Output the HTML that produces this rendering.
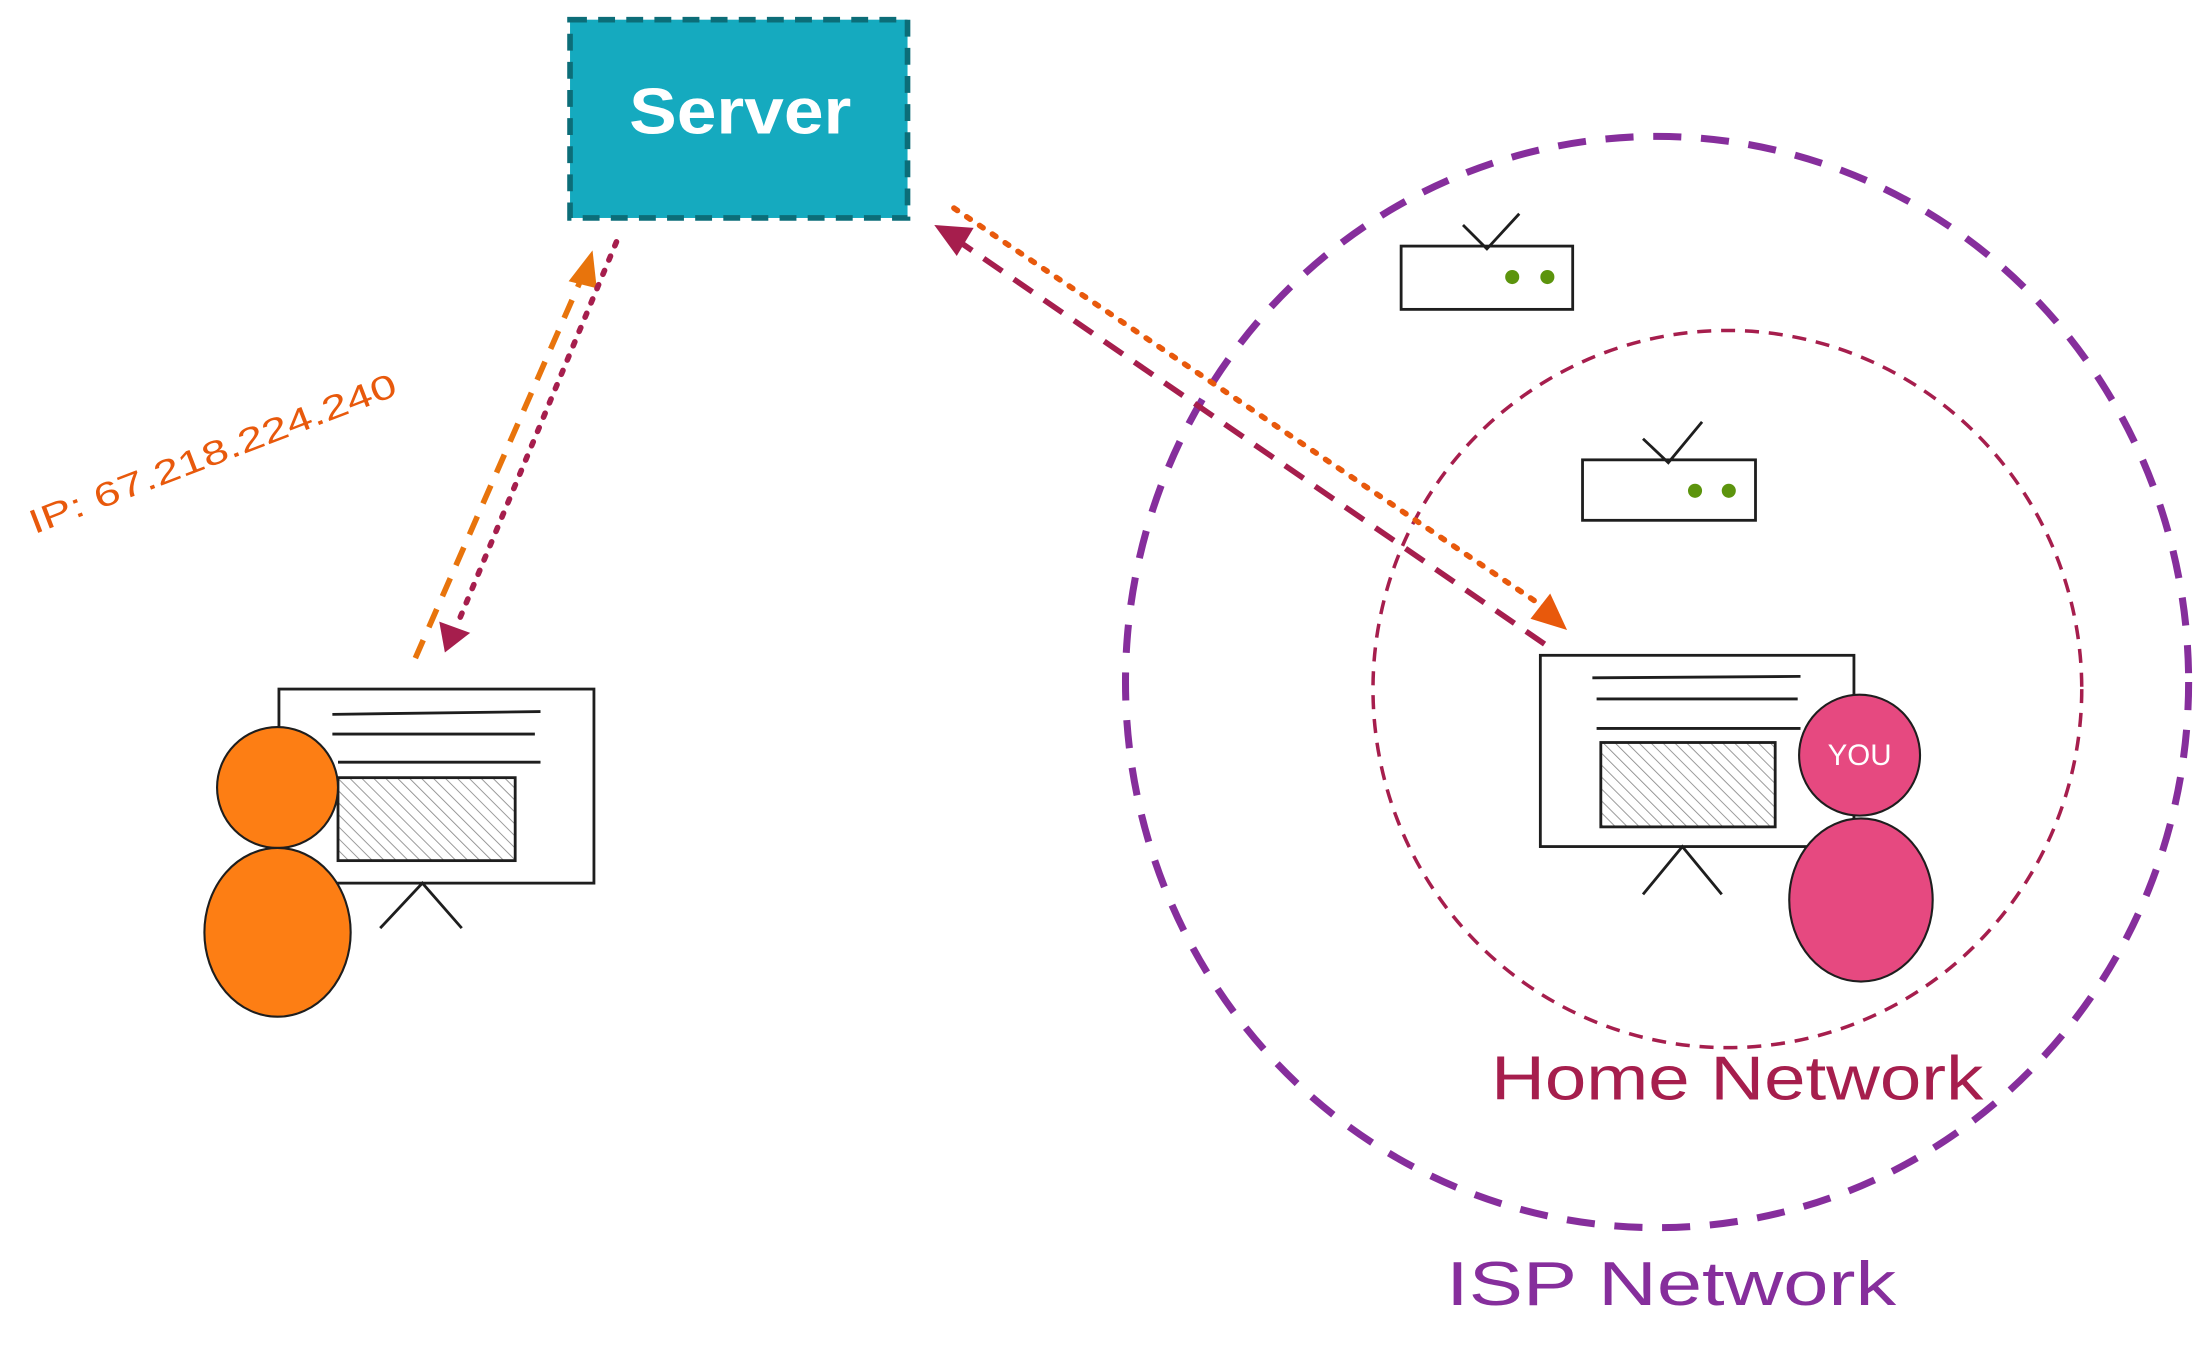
<!DOCTYPE html>
<html><head><meta charset="utf-8"><style>
html,body{margin:0;padding:0;background:#fff;}
svg{display:block;}
text{font-family:"Liberation Sans",sans-serif;}
</style></head><body>
<svg width="2206" height="1350" viewBox="0 0 1568 960" xmlns="http://www.w3.org/2000/svg">
<defs>
<pattern id="h" width="6" height="6" patternUnits="userSpaceOnUse" patternTransform="rotate(-45)">
<rect width="6" height="6" fill="#fff"/><line x1="0" y1="0" x2="0" y2="6" stroke="#888" stroke-width="1.2"/>
</pattern>
</defs>
<rect x="405" y="14" width="240" height="141" fill="#15aabf" stroke="#0c6d78" stroke-width="4" stroke-dasharray="12 8"/>
<text x="447" y="95" font-size="46" fill="#fff" textLength="158" lengthAdjust="spacingAndGlyphs" font-weight="bold">Server</text>
<line x1="295" y1="468" x2="414" y2="196" stroke="#e8740c" stroke-width="4" stroke-dasharray="14 10"/>
<polygon points="421,178 404,200 424,205" fill="#e8740c"/>
<line x1="438" y1="172" x2="324" y2="446" stroke="#a61e4d" stroke-width="4" stroke-dasharray="3 8" stroke-linecap="round"/>
<polygon points="316,464 312,442 334,450" fill="#a61e4d"/>
<text x="0" y="0" font-size="24" fill="#e8590c" textLength="278" lengthAdjust="spacingAndGlyphs" transform="translate(24,380) rotate(-21)">IP: 67.218.224.240</text>
<rect x="198" y="490" width="224" height="138" fill="#fff" stroke="#1e1e1e" stroke-width="2"/>
<line x1="236" y1="508" x2="384" y2="506" stroke="#1e1e1e" stroke-width="2"/>
<line x1="236" y1="522" x2="380" y2="522" stroke="#1e1e1e" stroke-width="2"/>
<line x1="240" y1="542" x2="384" y2="542" stroke="#1e1e1e" stroke-width="2"/>
<rect x="240" y="553" width="126" height="59" fill="url(#h)" stroke="#1e1e1e" stroke-width="2"/>
<polyline points="270,660 300,628 328,660" fill="none" stroke="#1e1e1e" stroke-width="2"/>
<circle cx="197" cy="560" r="43" fill="#fd7e14" stroke="#1e1e1e" stroke-width="1.5"/>
<ellipse cx="197" cy="663" rx="52" ry="60" fill="#fd7e14" stroke="#1e1e1e" stroke-width="1.5"/>
<ellipse cx="1178" cy="485" rx="378" ry="388" fill="none" stroke="#862e9c" stroke-width="5" stroke-dasharray="20 14"/>
<ellipse cx="1228" cy="490" rx="252" ry="255" fill="none" stroke="#a61e4d" stroke-width="2.5" stroke-dasharray="10 7"/>
<rect x="996" y="175" width="122" height="45" fill="#fff" stroke="#1e1e1e" stroke-width="2"/>
<circle cx="1075" cy="197" r="5" fill="#5c940d"/><circle cx="1100" cy="197" r="5" fill="#5c940d"/>
<polyline points="1040,160 1057,177 1080,152" fill="none" stroke="#1e1e1e" stroke-width="2"/>
<rect x="1125" y="327" width="123" height="43" fill="#fff" stroke="#1e1e1e" stroke-width="2"/>
<circle cx="1205" cy="349" r="5" fill="#5c940d"/><circle cx="1229" cy="349" r="5" fill="#5c940d"/>
<polyline points="1168,312 1186,329 1210,300" fill="none" stroke="#1e1e1e" stroke-width="2"/>
<line x1="678" y1="148" x2="1098" y2="432" stroke="#e8590c" stroke-width="4" stroke-dasharray="3 8" stroke-linecap="round"/>
<polygon points="1114,448 1088,440 1102,422" fill="#e8590c"/>
<line x1="1098" y1="458" x2="682" y2="172" stroke="#a61e4d" stroke-width="4" stroke-dasharray="16 10"/>
<polygon points="664,160 692,162 680,182" fill="#a61e4d"/>
<rect x="1095" y="466" width="223" height="136" fill="#fff" stroke="#1e1e1e" stroke-width="2"/>
<line x1="1132" y1="482" x2="1280" y2="481" stroke="#1e1e1e" stroke-width="2"/>
<line x1="1135" y1="497" x2="1278" y2="497" stroke="#1e1e1e" stroke-width="2"/>
<line x1="1135" y1="518" x2="1280" y2="518" stroke="#1e1e1e" stroke-width="2"/>
<rect x="1138" y="528" width="124" height="60" fill="url(#h)" stroke="#1e1e1e" stroke-width="2"/>
<polyline points="1168,636 1196,602 1224,636" fill="none" stroke="#1e1e1e" stroke-width="2"/>
<circle cx="1322" cy="537" r="43" fill="#e64980" stroke="#1e1e1e" stroke-width="1.5"/>
<text x="1322" y="544" font-size="21" fill="#fff" text-anchor="middle">YOU</text>
<ellipse cx="1323" cy="640" rx="51" ry="58" fill="#e64980" stroke="#1e1e1e" stroke-width="1.5"/>
<text x="1060" y="782" font-size="44" fill="#a61e4d" textLength="350" lengthAdjust="spacingAndGlyphs">Home Network</text>
<text x="1028" y="928" font-size="44" fill="#862e9c" textLength="320" lengthAdjust="spacingAndGlyphs">ISP Network</text>
</svg>
</body></html>
